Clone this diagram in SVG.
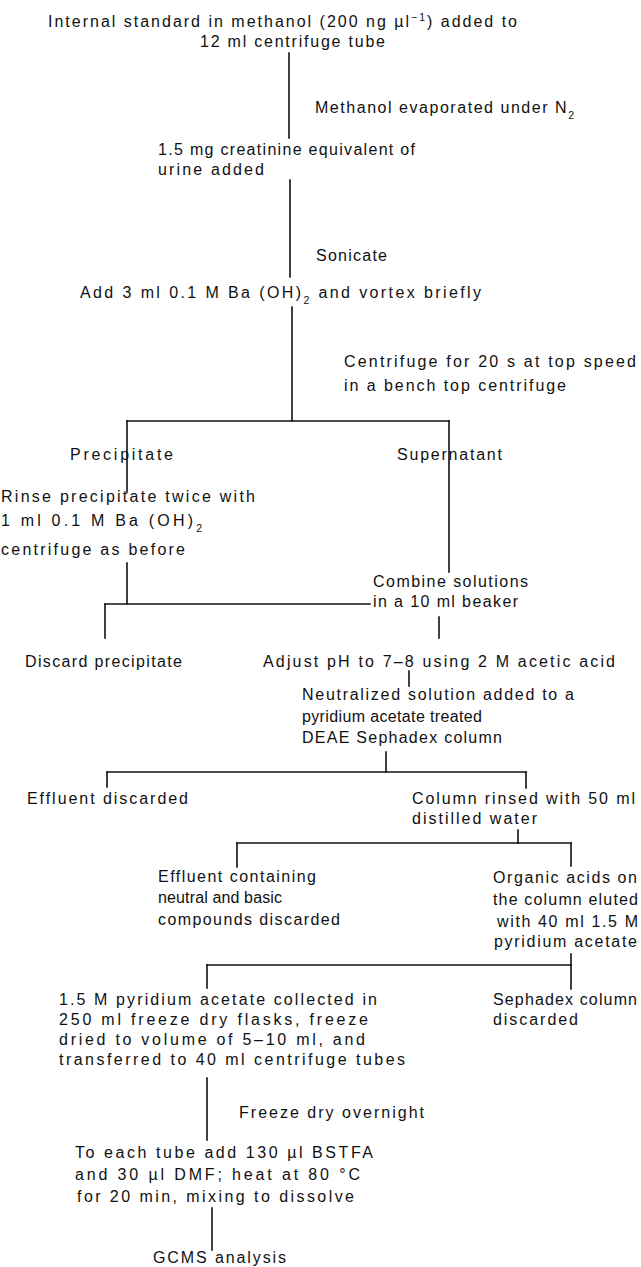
<svg xmlns="http://www.w3.org/2000/svg" width="641" height="1267" viewBox="0 0 641 1267">
<style>
.t{font-family:"Liberation Sans",Arial,sans-serif;font-size:16px;fill:#111}
.s{font-size:10.5px}
.c{stroke:#111;stroke-width:1.6;fill:none;stroke-linecap:square}
</style>
<rect width="641" height="1267" fill="#fff"/>
<g id="connectors" class="c">
<path d="M289 53V138"/>
<path d="M290 180V277"/>
<path d="M292 307V421"/>
<path d="M127 421H449"/>
<path d="M127 421V492"/>
<path d="M449 421V572"/>
<path d="M127 563V604"/>
<path d="M105 604H370"/>
<path d="M105 604V638"/>
<path d="M439 617V638"/>
<path d="M409 671V686"/>
<path d="M386 752V772"/>
<path d="M107 772H526"/>
<path d="M107 772V787"/>
<path d="M526 772V788"/>
<path d="M518 830V843"/>
<path d="M237 843H571"/>
<path d="M237 843V867"/>
<path d="M571 843V866"/>
<path d="M571 954V965"/>
<path d="M207 965H571"/>
<path d="M207 965V988"/>
<path d="M571 965V989"/>
<path d="M207 1078V1140"/>
<path d="M212 1208V1250"/>
</g>
<g id="n1">
<text class="t" x="48" y="27" textLength="469">Internal standard in methanol (200 ng µl<tspan class="s" baseline-shift="super">−1</tspan>) added to</text>
<text class="t" x="200" y="47" textLength="185">12 ml centrifuge tube</text>
</g>
<g id="l1"><text class="t" x="315" y="113" textLength="259">Methanol evaporated under N<tspan class="s" baseline-shift="sub">2</tspan></text></g>
<g id="n2">
<text class="t" x="158" y="155" textLength="257">1.5 mg creatinine equivalent of</text>
<text class="t" x="158" y="175" textLength="106">urine added</text>
</g>
<g id="l2"><text class="t" x="316" y="261" textLength="71">Sonicate</text></g>
<g id="n3"><text class="t" x="80" y="298" textLength="401">Add 3 ml 0.1 M Ba (OH)<tspan class="s" baseline-shift="sub">2</tspan> and vortex briefly</text></g>
<g id="l3">
<text class="t" x="344" y="367" textLength="292">Centrifuge for 20 s at top speed</text>
<text class="t" x="344" y="391" textLength="222">in a bench top centrifuge</text>
</g>
<g id="n4"><text class="t" x="70" y="460" textLength="103">Precipitate</text></g>
<g id="n5"><text class="t" x="397" y="460" textLength="105">Supernatant</text></g>
<g id="n6">
<text class="t" x="1" y="502" textLength="254">Rinse precipitate twice with</text>
<text class="t" x="1" y="526" textLength="201">1 ml 0.1 M Ba (OH)<tspan class="s" baseline-shift="sub">2</tspan></text>
<text class="t" x="1" y="555" textLength="184">centrifuge as before</text>
</g>
<g id="n7">
<text class="t" x="373" y="587" textLength="155">Combine solutions</text>
<text class="t" x="373" y="607" textLength="145">in a 10 ml beaker</text>
</g>
<g id="n8"><text class="t" x="25" y="667" textLength="157">Discard precipitate</text></g>
<g id="n9"><text class="t" x="263" y="667" textLength="352">Adjust pH to 7–8 using 2 M acetic acid</text></g>
<g id="n10">
<text class="t" x="302" y="700" textLength="272">Neutralized solution added to a</text>
<text class="t" x="302" y="722" textLength="180">pyridium acetate treated</text>
<text class="t" x="302" y="743" textLength="200">DEAE Sephadex column</text>
</g>
<g id="n11"><text class="t" x="27" y="804" textLength="161">Effluent discarded</text></g>
<g id="n12">
<text class="t" x="412" y="804" textLength="223">Column rinsed with 50 ml</text>
<text class="t" x="412" y="824" textLength="125">distilled water</text>
</g>
<g id="n13">
<text class="t" x="158" y="882" textLength="158">Effluent containing</text>
<text class="t" x="158" y="903" textLength="124">neutral and basic</text>
<text class="t" x="158" y="925" textLength="182">compounds discarded</text>
</g>
<g id="n14">
<text class="t" x="493" y="883" textLength="144">Organic acids on</text>
<text class="t" x="493" y="905" textLength="145">the column eluted</text>
<text class="t" x="497" y="927" textLength="141">with 40 ml 1.5 M</text>
<text class="t" x="494" y="947" textLength="143">pyridium acetate</text>
</g>
<g id="n15">
<text class="t" x="59" y="1005" textLength="318">1.5 M pyridium acetate collected in</text>
<text class="t" x="59" y="1025" textLength="309">250 ml freeze dry flasks, freeze</text>
<text class="t" x="59" y="1045" textLength="306">dried to volume of 5–10 ml, and</text>
<text class="t" x="59" y="1065" textLength="346">transferred to 40 ml centrifuge tubes</text>
</g>
<g id="n16">
<text class="t" x="493" y="1005" textLength="144">Sephadex column</text>
<text class="t" x="493" y="1025" textLength="85">discarded</text>
</g>
<g id="l4"><text class="t" x="239" y="1118" textLength="185">Freeze dry overnight</text></g>
<g id="n17">
<text class="t" x="75" y="1158" textLength="298">To each tube add 130 µl BSTFA</text>
<text class="t" x="75" y="1180" textLength="285">and 30 µl DMF; heat at 80 °C</text>
<text class="t" x="77" y="1202" textLength="277">for 20 min, mixing to dissolve</text>
</g>
<g id="n18"><text class="t" x="153" y="1263" textLength="133">GCMS analysis</text></g>
</svg>
